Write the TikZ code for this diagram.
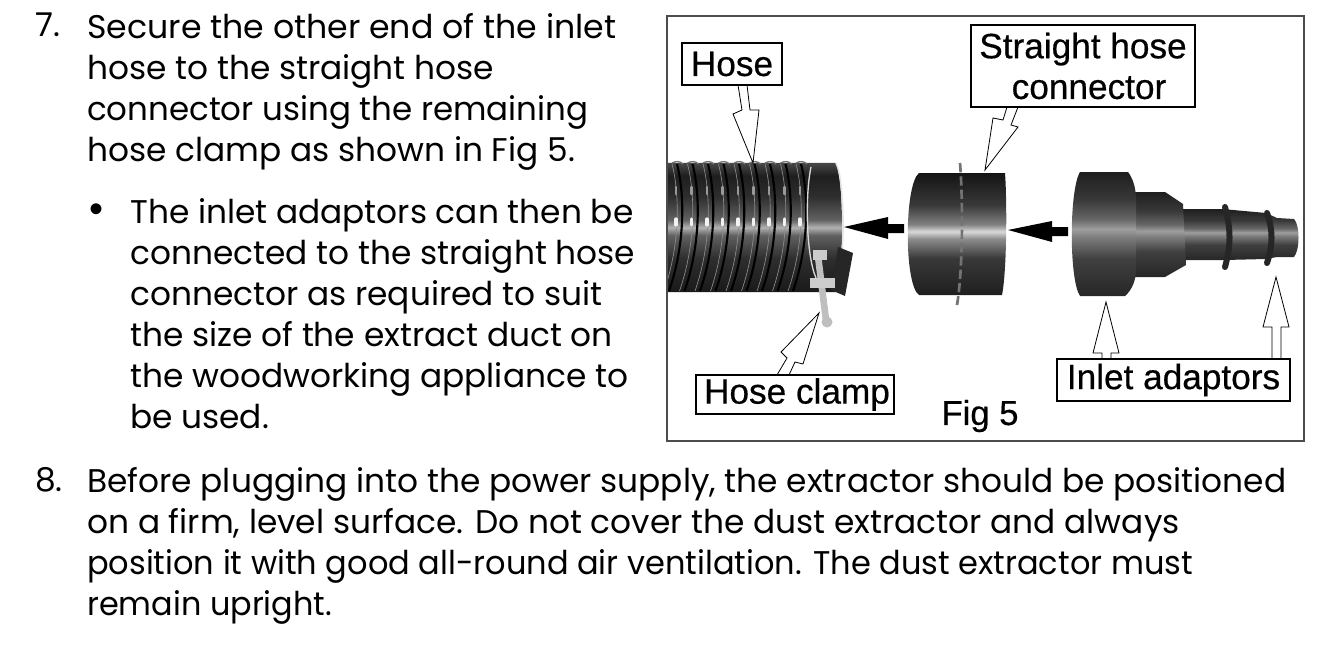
\documentclass[tikz,border=0pt]{standalone}
\usepackage{fontspec}
\setmainfont{Poppins}
\newfontfamily\labelfont[FakeBold=0.5]{Liberation Sans}
\newfontfamily\dotfont{Liberation Sans}
\usetikzlibrary{calc}
\pgfdeclareverticalshading{hoseshade}{100bp}{color(0bp)=(black!92); color(25bp)=(black!90); color(38bp)=(black!82); color(47bp)=(black!62); color(50bp)=(black!30); color(53bp)=(black!62); color(62bp)=(black!82); color(70bp)=(black!88); color(75bp)=(black!72); color(100bp)=(black!72)}
\pgfdeclareverticalshading{pipeshade}{100bp}{color(0bp)=(black!88); color(25bp)=(black!88); color(40bp)=(black!78); color(48bp)=(black!45); color(51bp)=(black!15); color(54bp)=(black!50); color(62bp)=(black!78); color(75bp)=(black!92); color(100bp)=(black!92)}
\pgfdeclareverticalshading{adaptshade}{100bp}{color(0bp)=(black!85); color(25bp)=(black!85); color(40bp)=(black!75); color(49bp)=(black!50); color(52bp)=(black!38); color(56bp)=(black!60); color(64bp)=(black!78); color(75bp)=(black!88); color(100bp)=(black!88)}
\tikzset{
 bodytext/.style={anchor=north west, inner sep=0, align=left, font=\fontsize{24.6}{30.8}\selectfont},
 tag/.style={draw=black, thick, fill=white, inner sep=0, align=center, font=\labelfont\fontsize{26.4}{30.5}\selectfont},
 pointer/.style={draw=black, fill=white, line width=.6pt, line join=miter},
 pushmark/.style={fill=black}
}
\begin{document}
\begin{tikzpicture}[x=.75pt,y=-.75pt]
\useasboundingbox (0,0) rectangle (1323,649);
% text
\node[bodytext] (num7) at (35,13) {7.};
\node[bodytext] (step7) at (87,13) {\scalebox{1.011}[1]{Secure the other end of the inlet}\\hose to the straight hose\\\scalebox{.99}[1]{connector using the remaining}\\hose clamp as shown in Fig 5.};
\node[inner sep=0, font=\dotfont\fontsize{30}{30}\selectfont] (dot) at (97,213) {\textbullet};
\node[bodytext] (sub7) at (130,198) {The inlet adaptors can then be\\connected to the straight hose\\connector as required to suit\\the size of the extract duct on\\the woodworking appliance to\\be used.};
\node[bodytext] (num8) at (35,467) {8.};
\node[bodytext] (step8) at (87,467) {Before plugging into the power supply, the extractor should be positioned\\on a firm, level surface. Do not cover the dust extractor and always\\\scalebox{.976}[1]{position it with good all-round air ventilation. The dust extractor must}\\\scalebox{.972}[1]{remain upright.}};
% frame
\draw[black!70, thick] (667,16) rectangle (1304,441);
% hose
\shade[shading=hoseshade] (668,163) -- (836,163) .. controls (844,180) and (844,275) .. (836,292) -- (668,292) -- cycle;
\begin{scope}
\clip (668,158) rectangle (845,292);
\foreach \x in {672,687.5,...,800} {
 \draw[black!45, line width=.5pt] (\x,164) .. controls (\x+8,195) and (\x+8,245) .. (\x-8,291);
 \draw[black, line width=1.6pt] (\x+5,164) .. controls (\x+13,195) and (\x+13,245) .. (\x-3,291);
 \draw[black!40, line width=2pt, line cap=round] (\x+4,187) -- (\x+4,194);
 \draw[black!5, line width=2.5pt, line cap=round] (\x+4,219) -- (\x+4,225);
 \draw[black!55, line width=1pt] (\x,163) .. controls (\x+4,161) and (\x+8,161) .. (\x+11,164);
}
\end{scope}
\draw[black!15, line width=1pt] (811,167) .. controls (805,195) and (806,255) .. (816,278);
\draw[black!10, line width=1.2pt] (836,163) .. controls (845,180) and (845,260) .. (838,277);
% clamp
\fill[black!85] (838,247) -- (853,253) -- (845,296) -- (831,290) -- cycle;
\draw[black!25, line width=5pt] (818,256) -- (826,320);
\fill[black!20] (813,250) rectangle (827,260);
\fill[black!20] (810,278) rectangle (835,288);
\fill[black!25] (827,322) circle (5.5);
% straight connector
\shade[shading=pipeshade] (919,173) -- (1005,173) .. controls (1007,200) and (1007,270) .. (1002,295) -- (919,295) .. controls (904,285) and (904,185) .. (919,173) -- cycle;
\draw[black!55, line width=2pt, dash pattern=on 7pt off 3pt] (960,163) .. controls (963,200) and (963,270) .. (957,305);
% adaptors
\shade[shading=adaptshade] (1181,209) -- (1222,209) -- (1266,213) -- (1277,218) -- (1294,219) .. controls (1300,225) and (1300,250) .. (1294,257) -- (1277,257) -- (1266,259) -- (1225,260) -- (1183,260) -- cycle;
\shade[shading=adaptshade] (1135,192) -- (1165,192) -- (1183,204) -- (1186,265) -- (1165,277) -- (1135,277) -- cycle;
\shade[shading=adaptshade] (1080,172) -- (1128,172) .. controls (1134,180) and (1136,190) .. (1136,200) -- (1136,270) .. controls (1136,280) and (1132,290) .. (1125,296) -- (1080,296) .. controls (1069,280) and (1069,190) .. (1080,172) -- cycle;
\draw[black!85, line width=4.5pt, line cap=round] (1225,207) .. controls (1231,230) and (1231,245) .. (1225,267);
\draw[black!85, line width=4.5pt, line cap=round] (1267,213) .. controls (1273,230) and (1273,245) .. (1267,263);
% push arrows
\fill[pushmark] (844,227) -- (888,217) -- (888,224) -- (904,224) -- (904,233) -- (888,233) -- (888,239) -- cycle;
\fill[pushmark] (1008,230) -- (1052,221) -- (1052,227) -- (1068,227) -- (1068,236) -- (1052,236) -- (1052,242) -- cycle;
% pointers
\draw[pointer] (738,85) -- (742,110) -- (733,114) -- (753,163) -- (759,110) -- (750,110) -- (747,85);
\draw[pointer] (777,375) -- (787,358) -- (781,352) -- (819,313) -- (803,364) -- (795,362) -- (789,375);
\draw[pointer] (1007,107) -- (1003,120) -- (993,118) -- (985,170) -- (1018,127) -- (1011,125) -- (1018,107);
\draw[pointer] (1102,359) -- (1102,353) -- (1093,353) -- (1106,302) -- (1119,353) -- (1111,353) -- (1111,359);
\draw[pointer] (1272,359) -- (1272,327) -- (1263,327) -- (1276,277) -- (1289,327) -- (1281,327) -- (1281,359);
% labels
\node[tag, minimum width=75pt, minimum height=31.5pt] (hose) at (732,64) {\raisebox{-1.5pt}{Hose}};
\node[tag, minimum width=168pt, minimum height=61.5pt] (connector) at (1083,66) {Straight hose\\\hspace*{9pt}connector};
\node[tag, minimum width=148.5pt, minimum height=29.25pt] (clamp) at (795,394.5) {\hspace*{3pt}\raisebox{-1.5pt}{Hose clamp}};
\node[tag, minimum width=174.75pt, minimum height=31.5pt] (adaptors) at (1173.5,380) {\raisebox{-1.5pt}{Inlet adaptors}};
\node[inner sep=0, font=\labelfont\fontsize{26}{28}\selectfont] (figlabel) at (980,416) {Fig 5};
\end{tikzpicture}
\end{document}
